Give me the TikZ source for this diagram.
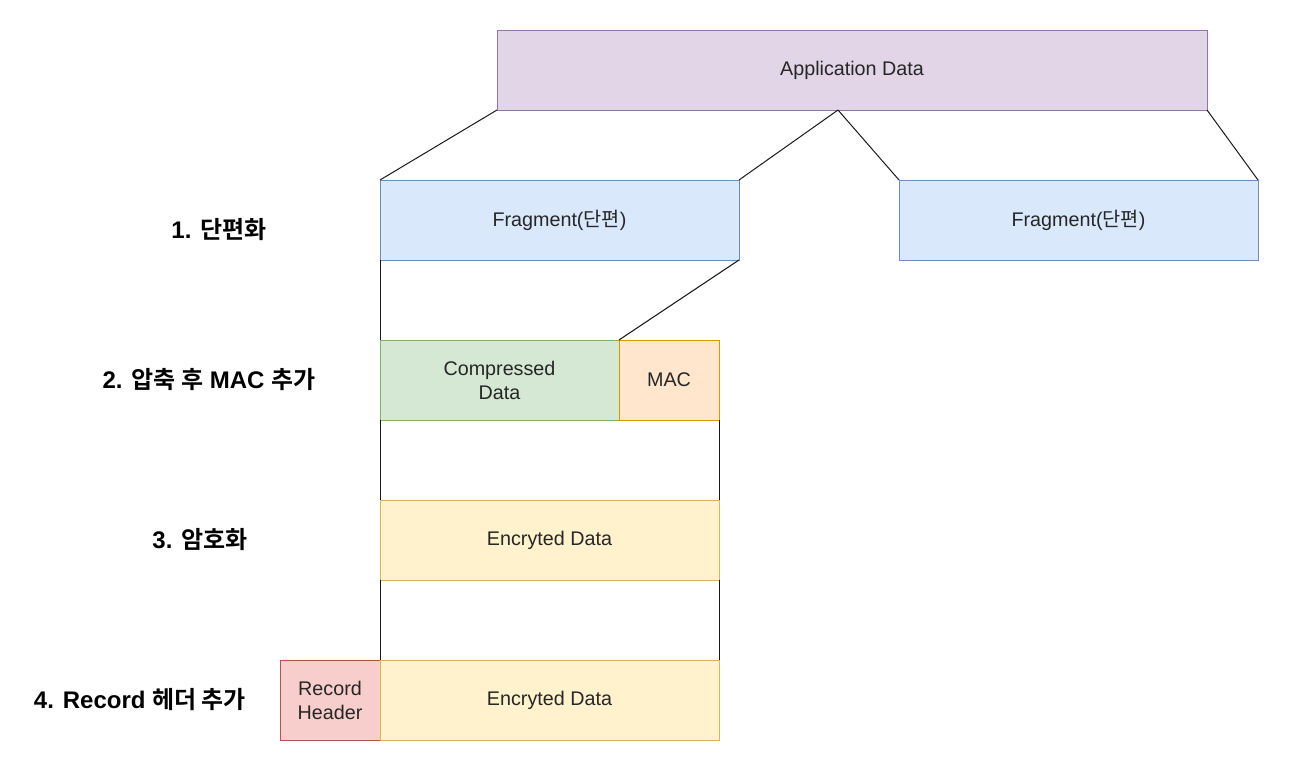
\documentclass[tikz,border=0pt]{standalone}
\usepackage{fontspec}
\setmainfont{Liberation Sans}
\newfontfamily\kr{Noto Sans CJK KR}[BoldFont={Noto Sans CJK KR Bold}]
\usetikzlibrary{positioning}

\definecolor{appfill}{HTML}{E1D5E7}
\definecolor{appline}{HTML}{9673A6}
\definecolor{fragfill}{HTML}{DAE8FC}
\definecolor{fragline}{HTML}{6C8EBF}
\definecolor{compfill}{HTML}{D5E8D4}
\definecolor{compline}{HTML}{82B366}
\definecolor{macfill}{HTML}{FFE6CC}
\definecolor{macline}{HTML}{D79B00}
\definecolor{encfill}{HTML}{FFF2CC}
\definecolor{encline}{HTML}{D6B656}
\definecolor{recfill}{HTML}{F8CECC}
\definecolor{recline}{HTML}{B85450}

\tikzset{
  box/.style={draw, line width=0.75pt, inner sep=0pt, outer sep=0pt,
    anchor=north west, minimum height=60pt, align=center,
    text=black!85, font=\fontsize{14.8}{18}\selectfont},
  steplbl/.style={font=\fontsize{18}{21}\selectfont\bfseries},
  every edge/.style={draw, line width=0.75pt, black!90}
}

\begin{document}
\begin{tikzpicture}[x=0.75pt, y=-0.75pt]
\useasboundingbox (0,0) rectangle (1292,771);

\node[box, fill=appfill, draw=appline, minimum width=532.5pt] (app) at (497,30) {Application Data};

\node[box, fill=fragfill, draw=fragline, minimum width=269.25pt] (frag1) at (380,180) {Fragment({\kr 단편})};
\node[box, fill=fragfill, draw=fragline, minimum width=269.25pt] (frag2) at (899,180) {Fragment({\kr 단편})};

\node[box, fill=compfill, draw=compline, minimum width=179.25pt] (comp) at (380,340) {Compressed\\Data};
\node[box, fill=macfill, draw=macline, minimum width=75pt] (mac) at (619,340) {MAC};

\node[box, fill=encfill, draw=encline, minimum width=254.25pt] (enc1) at (380,500) {Encryted Data};

\node[box, fill=recfill, draw=recline, minimum width=75pt] (rec) at (280,660) {Record\\Header};
\node[box, fill=encfill, draw=encline, minimum width=254.25pt] (enc2) at (380,660) {Encryted Data};

\node[steplbl] (s1) at (219,230) {1. {\kr 단편화}};
\node[steplbl] (s2) at (209,380) {2. {\kr 압축 후} MAC {\kr 추가}};
\node[steplbl] (s3) at (200,540) {3. {\kr 암호화}};
\node[steplbl] (s4) at (140,700) {4. Record {\kr 헤더 추가}};

\coordinate (split) at (838,110);

\path (app.south west) edge (frag1.north west)
      (split) edge (frag1.north east)
      (split) edge (frag2.north west)
      (app.south east) edge (frag2.north east);

\path (frag1.south west) edge (comp.north west)
      (frag1.south east) edge (mac.north west);

\path (comp.south west) edge (enc1.north west)
      (mac.south east) edge (enc1.north east);

\path (enc1.south west) edge (enc2.north west)
      (enc1.south east) edge (enc2.north east);
\end{tikzpicture}
\end{document}
